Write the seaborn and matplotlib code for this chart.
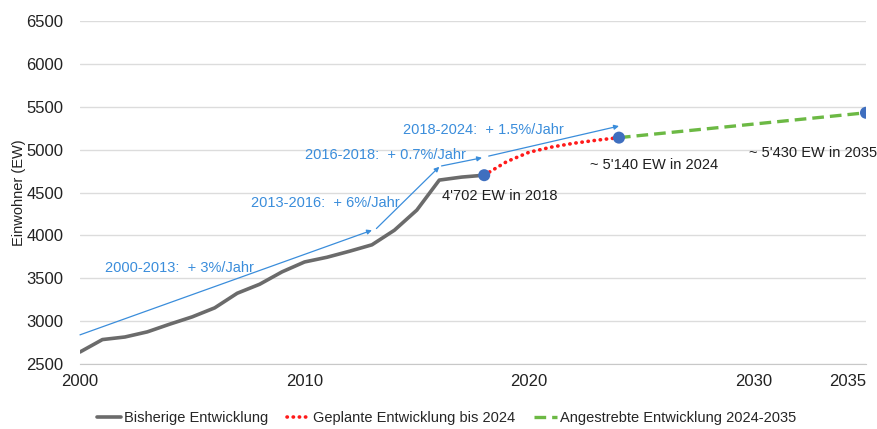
import matplotlib
matplotlib.use('Agg')
import matplotlib.pyplot as plt
import matplotlib.ticker as mticker
import pandas as pd
import seaborn as sns

# ── Data ─────────────────────────────────────────────────────────────────────
years_hist = list(range(2000, 2019))
pop_hist = [2640, 2785, 2815, 2875, 2965, 3050, 3155, 3325, 3430, 3575,
            3690, 3745, 3815, 3890, 4060, 4295, 4645, 4680, 4702]

years_plan = [2018, 2019, 2020, 2021, 2022, 2023, 2024]
pop_plan = [4702, 4860, 4970, 5030, 5075, 5110, 5140]

years_goal = [2024, 2035]
pop_goal = [5140, 5430]

marker_years = [2018, 2024, 2035]
marker_pop = [4702, 5140, 5430]

# growth arrows: (start year, start value, end year, end value)
arrows = [
    (2000.0, 2840, 2013.0, 4060),
    (2013.2, 4080, 2016.0, 4800),
    (2016.1, 4810, 2017.9, 4905),
    (2018.2, 4925, 2024.0, 5275),
]
growth_labels = [
    ("2000-2013:  + 3%/Jahr", 2001.1, 3620),
    ("2013-2016:  + 6%/Jahr", 2007.6, 4375),
    ("2016-2018:  + 0.7%/Jahr", 2010.0, 4940),
    ("2018-2024:  + 1.5%/Jahr", 2014.4, 5230),
]
value_labels = [
    ("4'702 EW in 2018", 2016.1, 4458),
    ("~ 5'140 EW in 2024", 2022.7, 4820),
    ("~ 5'430 EW in 2035", 2029.8, 4960),
]

legend_labels = ["Bisherige Entwicklung", "Geplante Entwicklung bis 2024",
                 "Angestrebte Entwicklung 2024-2035"]

# ── Style ────────────────────────────────────────────────────────────────────
sns.set_style("white")
plt.rcParams['font.family'] = ['Liberation Sans', 'DejaVu Sans']

GRAY = '#6b6b6b'
RED = '#ff1a1a'
GREEN = '#6cb944'
BLUE_PT = '#3f6fbf'
BLUE_TXT = '#3a8ddb'

fig, ax = plt.subplots(figsize=(8.78, 4.29), dpi=100)
fig.subplots_adjust(left=0.0911, right=0.9863, top=0.951, bottom=0.1515)

df_hist = pd.DataFrame({"year": years_hist, "pop": pop_hist})
df_plan = pd.DataFrame({"year": years_plan, "pop": pop_plan})
df_goal = pd.DataFrame({"year": years_goal, "pop": pop_goal})
df_pts = pd.DataFrame({"year": marker_years, "pop": marker_pop})

sns.lineplot(data=df_hist, x="year", y="pop", ax=ax, color=GRAY, lw=2.6,
             label=legend_labels[0], zorder=3)
sns.lineplot(data=df_plan, x="year", y="pop", ax=ax, color=RED, lw=2.6,
             label=legend_labels[1], zorder=3,
             linestyle=(0, (0.1, 1.6)), dash_capstyle='round')
sns.lineplot(data=df_goal, x="year", y="pop", ax=ax, color=GREEN, lw=2.4,
             label=legend_labels[2], zorder=3, linestyle=(0, (3.5, 1.8)))
sns.scatterplot(data=df_pts, x="year", y="pop", ax=ax, color=BLUE_PT,
                s=75, edgecolor='none', zorder=5, legend=False)

for x0, y0, x1, y1 in arrows:
    ax.annotate("", xy=(x1, y1), xytext=(x0, y0),
                arrowprops=dict(arrowstyle='-|>', color=BLUE_TXT, lw=0.9,
                                mutation_scale=7, shrinkA=0, shrinkB=0),
                zorder=4)

for txt, x, y in growth_labels:
    ax.text(x, y, txt, color=BLUE_TXT, fontsize=10.5, ha='left', va='center')
for txt, x, y in value_labels:
    ax.text(x, y, txt, color='#1e1e1e', fontsize=10.5, ha='left', va='center')

# ── Axes ─────────────────────────────────────────────────────────────────────
ax.set_xlim(2000, 2035)
ax.set_ylim(2500, 6500)
ax.set_xticks([2000, 2010, 2020, 2030, 2035])
ax.xaxis.set_minor_locator(mticker.MultipleLocator(1))
ax.set_yticks(range(2500, 6501, 500))
ax.grid(axis='y', color='#dcdcdc', lw=1)
ax.set_axisbelow(True)
for side in ['top', 'right', 'left']:
    ax.spines[side].set_visible(False)
ax.spines['bottom'].set_color('#c8c8c8')
ax.tick_params(axis='x', which='both', length=4, color='#c8c8c8',
               labelsize=12, labelcolor='#222222', pad=3)
ax.tick_params(axis='y', length=0, labelsize=12, labelcolor='#222222', pad=12)
ax.get_xticklabels()[-1].set_ha('right')
ax.set_xlabel("")
ax.set_ylabel("Einwohner (EW)", fontsize=10.5, color='#222222', labelpad=0)

handles, labels = ax.get_legend_handles_labels()
ax.legend_.remove()
fig.legend(handles, labels, loc='center', bbox_to_anchor=(0.509, 0.026),
           ncol=3, frameon=False, fontsize=10.5, handlelength=1.6,
           handletextpad=0.2, columnspacing=1.3)

plt.savefig("out.png", dpi=100)
plt.close()
